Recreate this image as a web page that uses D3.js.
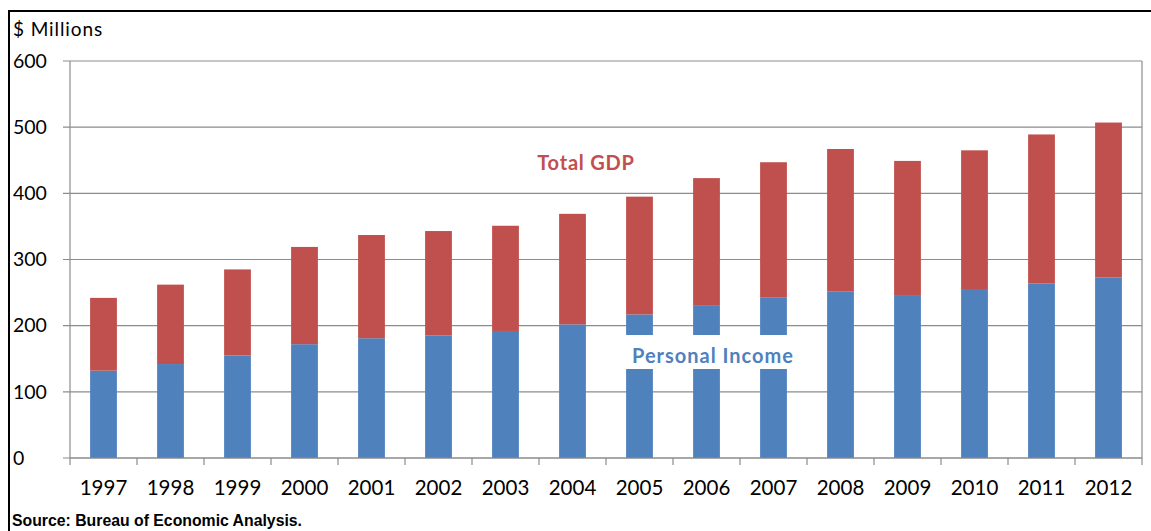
<!DOCTYPE html>
<html>
<head>
<meta charset="utf-8">
<script src="https://cdn.jsdelivr.net/npm/d3@7"></script>
<style>
  body { margin: 0; background: #fff; }
  svg { display: block; font-family: Lato, "Open Sans", sans-serif; }
</style>
</head>
<body>
<div id="chart"></div>
<script>
// données ($ millions)
const years = ["1997","1998","1999","2000","2001","2002","2003","2004","2005","2006","2007","2008","2009","2010","2011","2012"];
const personalIncome = [132, 142, 155, 172, 181, 185, 192, 202, 217, 230, 243, 252, 245, 254, 264, 273];
const totalGDP = [242, 262, 285, 319, 337, 343, 351, 369, 395, 423, 447, 467, 449, 465, 489, 507];
const yTicks = [0, 100, 200, 300, 400, 500, 600];

const W = 1151, H = 531;
const margin = { top: 61, right: 9, bottom: 73, left: 70 };

const svg = d3.select("#chart")
  .append("svg")
  .attr("width", W)
  .attr("height", H);

//------cadre extérieur
svg.append("rect")
  .attr("x", 9).attr("y", 11)
  .attr("width", W).attr("height", H)
  .attr("fill", "none")
  .attr("stroke", "#000")
  .attr("stroke-width", 2);

const x = d3.scaleBand()
  .domain(years)
  .range([margin.left, W - margin.right])
  .paddingInner(0.6)
  .paddingOuter(0.3);

const y = d3.scaleLinear()
  .domain([0, 600])
  .range([H - margin.bottom, margin.top]);

const step = x.step();

//------grille horizontale
svg.append("g")
  .selectAll("line")
  .data(yTicks)
  .enter()
  .append("line")
  .attr("x1", margin.left - 7)
  .attr("x2", W - margin.right)
  .attr("y1", d => y(d))
  .attr("y2", d => y(d))
  .attr("stroke", "#8c8c8c")
  .attr("stroke-width", 1.2);

//------bordure droite de la zone de tracé
svg.append("line")
  .attr("x1", W - margin.right).attr("x2", W - margin.right)
  .attr("y1", y(600)).attr("y2", y(0))
  .attr("stroke", "#8c8c8c")
  .attr("stroke-width", 1.2);

//------axe y
svg.append("line")
  .attr("x1", margin.left).attr("x2", margin.left)
  .attr("y1", y(600)).attr("y2", y(0))
  .attr("stroke", "#8c8c8c")
  .attr("stroke-width", 1.2);

svg.append("g")
  .selectAll("text")
  .data(yTicks)
  .enter()
  .append("text")
  .attr("x", 13)
  .attr("y", d => y(d))
  .attr("dy", "0.35em")
  .attr("font-size", 19.5)
  .attr("fill", "#000")
  .text(d => d);

svg.append("text")
  .attr("x", 13)
  .attr("y", 36)
  .attr("font-size", 19)
  .attr("letter-spacing", 0.9)
  .text("$ Millions");

//------barres empilées
const bars = svg.append("g");
const barData = years.map((yr, i) => ({ year: yr, income: personalIncome[i], gdp: totalGDP[i] }));

bars.selectAll(".income")
  .data(barData)
  .enter()
  .append("rect")
  .attr("class", "income")
  .attr("x", d => x(d.year))
  .attr("width", x.bandwidth())
  .attr("y", d => y(d.income))
  .attr("height", d => y(0) - y(d.income))
  .attr("fill", "#4f81bd");

bars.selectAll(".gdp")
  .data(barData)
  .enter()
  .append("rect")
  .attr("class", "gdp")
  .attr("x", d => x(d.year))
  .attr("width", x.bandwidth())
  .attr("y", d => y(d.gdp))
  .attr("height", d => y(d.income) - y(d.gdp))
  .attr("fill", "#c0504d");

//------axe x : traits aux limites des catégories
const xAxis = svg.append("g")
  .attr("transform", `translate(0,${y(0)})`);

xAxis.append("line")
  .attr("x1", margin.left).attr("x2", W - margin.right)
  .attr("stroke", "#8c8c8c")
  .attr("stroke-width", 1.2);

xAxis.selectAll(".tick-line")
  .data(d3.range(years.length + 1))
  .enter()
  .append("line")
  .attr("class", "tick-line")
  .attr("x1", i => margin.left + i * step)
  .attr("x2", i => margin.left + i * step)
  .attr("y1", 0).attr("y2", 7)
  .attr("stroke", "#8c8c8c")
  .attr("stroke-width", 1.2);

xAxis.selectAll(".year")
  .data(years)
  .enter()
  .append("text")
  .attr("class", "year")
  .attr("x", d => x(d) + x.bandwidth() / 2)
  .attr("y", 30)
  .attr("dy", "0.35em")
  .attr("text-anchor", "middle")
  .attr("font-size", 20.5)
  .text(d => d);

//------étiquettes des séries
svg.append("text")
  .attr("x", 586)
  .attr("y", 163)
  .attr("dy", "0.35em")
  .attr("text-anchor", "middle")
  .attr("font-size", 20)
  .attr("font-weight", "bold")
  .attr("letter-spacing", 0.8)
  .attr("fill", "#c0504d")
  .text("Total GDP");

svg.append("rect")
  .attr("x", 622)
  .attr("y", 335)
  .attr("width", 180)
  .attr("height", 34)
  .attr("fill", "#fff");

svg.append("text")
  .attr("x", 713)
  .attr("y", 356)
  .attr("dy", "0.35em")
  .attr("text-anchor", "middle")
  .attr("font-size", 20)
  .attr("font-weight", "bold")
  .attr("letter-spacing", 1)
  .attr("fill", "#4f81bd")
  .text("Personal Income");

//------source
svg.append("text")
  .attr("x", 12)
  .attr("y", 526)
  .attr("font-family", "'Liberation Sans', Arial, sans-serif")
  .attr("font-size", 15.8)
  .attr("font-weight", "bold")
  .text("Source: Bureau of Economic Analysis.");
</script>
</body>
</html>
